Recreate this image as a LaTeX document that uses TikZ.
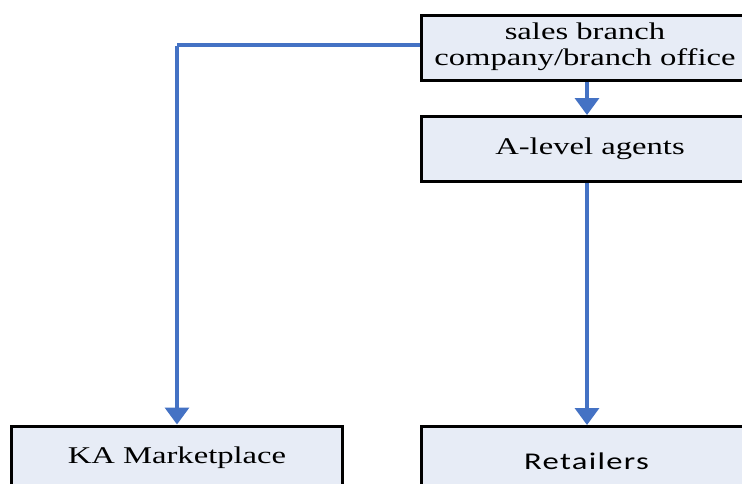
\documentclass[tikz,border=0pt]{standalone}
\usepackage{fontspec}
\setmainfont{Liberation Serif}
\newfontfamily\bodysans{Carlito}
\usetikzlibrary{arrows.meta}
\definecolor{boxfill}{HTML}{E7ECF6}
\definecolor{linkblue}{HTML}{4472C4}
\tikzset{
  x=1pt, y=-1pt,
  orgbox/.style={draw=black, line width=3pt, fill=boxfill,
    minimum width=331pt, minimum height=65pt, inner sep=0pt, anchor=north},
  boxtext/.style={font=\fontsize{24}{26}\selectfont, align=center},
  link/.style={draw=linkblue, line width=3.5pt,
    -{Triangle[length=17pt,width=24pt]}},
  plainlink/.style={draw=linkblue, line width=3.5pt}
}
\newcommand{\widetext}[1]{\scalebox{1.36}[1]{#1}}
\begin{document}
\begin{tikzpicture}
\useasboundingbox (0,0) rectangle (742,483);
\clip (0,0) rectangle (742,483);

% boxes
\node[orgbox] (head) at (587,13.5) {};
\node[orgbox] (agents) at (587,115) {};
\node[orgbox] (ka) at (177,424.5) {};
\node[orgbox] (retail) at (587,425) {};

% labels
\node[boxtext, anchor=base] (headtxt1) at (585,39.5) {\widetext{sales branch}};
\node[boxtext, anchor=base] (headtxt2) at (585,65.5) {\widetext{company/branch office}};
\node[boxtext, anchor=base] (agentstxt) at (590,154) {\widetext{A-level agents}};
\node[boxtext, anchor=base] (katxt) at (177,463) {\widetext{KA Marketplace}};
\node[boxtext, anchor=base, font=\bodysans\fontsize{24}{26}\selectfont] (retailtxt) at (586.5,469) {\scalebox{1.36}[1]{\addfontfeature{LetterSpace=4}Retailers}};

% connectors
\coordinate (bend) at (177,45);
\draw[plainlink] (head.west |- 0,45) -- (bend);
\draw[link] ([yshift=-1pt]bend) -- (ka.north);
\draw[link] (head.south) -- (agents.north);
\draw[link] (agents.south) -- (retail.north);
\end{tikzpicture}
\end{document}
